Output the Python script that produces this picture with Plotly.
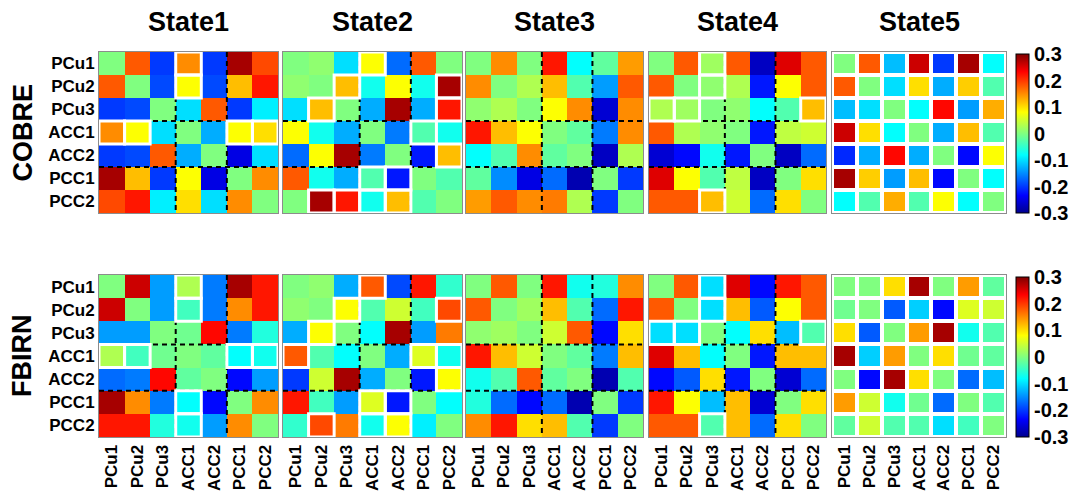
import plotly.graph_objects as go

# region labels and group sizes (PCu / ACC / PCC)
regions = ["PCu1", "PCu2", "PCu3", "ACC1", "ACC2", "PCC1", "PCC2"]
group_sizes = [3, 2, 2]
states = ["State1", "State2", "State3", "State4", "State5"]
datasets = ["COBRE", "FBIRN"]
cbar_ticks = [0.3, 0.2, 0.1, 0, -0.1, -0.2, -0.3]
cbar_labels = ["0.3", "0.2", "0.1", "0", "-0.1", "-0.2", "-0.3"]

# COBRE connectivity matrices (rows/cols follow regions)
cobre_s1 = [
    [0.00, 0.18, -0.20, 0.15, -0.20, 0.28, 0.19],
    [0.18, 0.00, -0.19, 0.08, -0.19, 0.12, 0.22],
    [-0.20, -0.19, 0.00, -0.10, 0.18, -0.20, -0.09],
    [0.15, 0.08, -0.10, 0.00, -0.13, 0.08, 0.10],
    [-0.20, -0.19, 0.18, -0.13, 0.00, -0.25, -0.10],
    [0.28, 0.12, -0.20, 0.08, -0.25, 0.00, 0.15],
    [0.19, 0.22, -0.09, 0.10, -0.10, 0.15, 0.00],
]
cobre_s2 = [
    [0.00, 0.01, -0.10, 0.08, -0.17, 0.18, 0.00],
    [0.01, 0.00, 0.12, -0.07, 0.08, -0.07, 0.28],
    [-0.10, 0.12, 0.00, -0.13, 0.28, -0.13, 0.22],
    [0.08, -0.07, -0.13, 0.00, -0.16, -0.03, -0.07],
    [-0.17, 0.08, 0.28, -0.16, 0.00, -0.22, 0.12],
    [0.18, -0.07, -0.13, -0.03, -0.22, 0.00, -0.03],
    [0.00, 0.28, 0.22, -0.07, 0.12, -0.03, 0.00],
]
cobre_s3 = [
    [0.00, 0.15, 0.00, 0.22, -0.08, -0.02, 0.14],
    [0.15, 0.00, 0.03, 0.12, -0.03, -0.14, 0.18],
    [0.01, 0.03, 0.00, 0.08, 0.15, -0.26, 0.15],
    [0.22, 0.12, 0.08, 0.00, -0.02, -0.16, 0.15],
    [-0.08, -0.03, 0.15, -0.02, 0.00, -0.27, 0.03],
    [-0.02, -0.15, -0.25, -0.17, -0.28, 0.00, -0.20],
    [0.14, 0.18, 0.15, 0.16, 0.03, -0.20, 0.00],
]
cobre_s4 = [
    [0.00, 0.18, 0.02, 0.18, -0.27, 0.25, 0.18],
    [0.18, 0.00, 0.01, 0.03, -0.22, 0.08, 0.18],
    [0.03, 0.02, 0.00, 0.01, -0.08, -0.03, 0.12],
    [0.18, 0.03, 0.01, 0.00, -0.22, 0.04, 0.05],
    [-0.26, -0.23, -0.07, -0.22, 0.00, -0.27, -0.17],
    [0.25, 0.08, -0.03, 0.04, -0.27, 0.00, 0.10],
    [0.18, 0.18, 0.12, 0.05, -0.17, 0.10, 0.00],
]
cobre_s5 = [
    [0.00, 0.18, -0.12, 0.26, -0.20, 0.28, -0.08],
    [0.18, 0.00, -0.10, 0.10, -0.13, 0.11, -0.03],
    [-0.12, -0.10, 0.00, -0.08, 0.23, -0.14, 0.13],
    [0.26, 0.10, -0.08, 0.00, -0.13, 0.12, -0.03],
    [-0.21, -0.13, 0.23, -0.13, 0.00, -0.23, 0.08],
    [0.28, 0.11, -0.14, 0.12, -0.23, 0.00, -0.08],
    [-0.08, -0.03, 0.13, -0.03, 0.08, -0.08, 0.00],
]

# FBIRN connectivity matrices
fbirn_s1 = [
    [0.00, 0.26, -0.14, 0.03, -0.16, 0.28, 0.22],
    [0.26, 0.00, -0.14, -0.04, -0.16, 0.15, 0.22],
    [-0.14, -0.14, 0.00, -0.01, 0.23, -0.16, -0.06],
    [0.03, -0.04, -0.01, 0.00, -0.02, -0.08, -0.07],
    [-0.17, -0.16, 0.23, -0.02, 0.00, -0.23, -0.14],
    [0.28, 0.15, -0.16, -0.08, -0.23, 0.00, 0.15],
    [0.22, 0.22, -0.06, -0.07, -0.14, 0.15, 0.00],
]
fbirn_s2 = [
    [0.00, 0.01, -0.13, 0.18, -0.19, 0.22, -0.05],
    [0.01, 0.00, 0.08, -0.03, 0.05, -0.04, 0.19],
    [-0.13, 0.08, 0.00, -0.08, 0.28, -0.14, 0.16],
    [0.18, -0.03, -0.08, 0.00, -0.13, 0.06, -0.07],
    [-0.20, 0.05, 0.28, -0.13, 0.00, -0.22, 0.08],
    [0.22, -0.04, -0.14, 0.06, -0.22, 0.00, -0.08],
    [-0.05, 0.19, 0.16, -0.07, 0.08, -0.09, 0.00],
]
fbirn_s3 = [
    [0.00, 0.18, 0.00, 0.22, -0.07, -0.06, 0.15],
    [0.18, 0.00, 0.02, 0.12, -0.03, -0.17, 0.22],
    [0.01, 0.02, 0.00, 0.05, 0.18, -0.23, 0.10],
    [0.22, 0.12, 0.05, 0.00, -0.02, -0.16, 0.12],
    [-0.07, -0.03, 0.18, -0.02, 0.00, -0.28, -0.03],
    [-0.06, -0.17, -0.23, -0.17, -0.28, 0.00, -0.20],
    [0.15, 0.22, 0.10, 0.12, -0.03, -0.20, 0.00],
]
fbirn_s4 = [
    [0.00, 0.18, -0.10, 0.25, -0.23, 0.22, 0.18],
    [0.18, 0.00, -0.10, 0.12, -0.18, 0.08, 0.18],
    [-0.10, -0.10, 0.00, -0.08, 0.10, -0.12, -0.03],
    [0.25, 0.12, -0.08, 0.00, -0.22, 0.12, 0.12],
    [-0.23, -0.18, 0.10, -0.22, 0.00, -0.26, -0.17],
    [0.22, 0.08, -0.12, 0.12, -0.26, 0.00, 0.10],
    [0.18, 0.18, -0.03, 0.12, -0.17, 0.10, 0.00],
]
fbirn_s5 = [
    [0.00, 0.00, 0.10, 0.28, 0.00, 0.14, -0.02],
    [-0.01, 0.00, -0.18, -0.11, -0.23, 0.06, 0.05],
    [0.10, -0.18, 0.00, 0.14, 0.28, -0.07, -0.03],
    [0.28, -0.11, 0.14, 0.00, 0.10, -0.01, -0.02],
    [0.00, -0.23, 0.28, 0.10, 0.00, -0.17, -0.12],
    [0.14, 0.05, -0.07, -0.01, -0.17, 0.00, -0.03],
    [-0.02, 0.05, -0.03, -0.03, -0.10, -0.04, 0.00],
]

# significant cells (row, col), 1-based, outlined in white
cobre_boxes = [
    [(1, 4), (2, 4), (4, 1), (4, 2), (4, 6), (4, 7)],
    [(1, 4), (2, 3), (3, 2), (2, 7), (3, 7), (4, 6), (5, 7), (6, 4), (6, 5), (7, 2), (7, 3), (7, 4), (7, 5)],
    [],
    [(1, 3), (2, 3), (3, 1), (3, 2), (3, 7), (7, 3)],
    [],
]
fbirn_boxes = [
    [(1, 4), (2, 4), (4, 1), (4, 2), (4, 6), (4, 7), (6, 4), (7, 4)],
    [(1, 4), (2, 3), (2, 7), (3, 2), (4, 1), (4, 6), (4, 7), (5, 7), (6, 4), (6, 5), (7, 2), (7, 4), (7, 5)],
    [],
    [(1, 3), (2, 3), (3, 1), (3, 2), (3, 7), (7, 3)],
    [],
]

cobre = [cobre_s1, cobre_s2, cobre_s3, cobre_s4, cobre_s5]
fbirn = [fbirn_s1, fbirn_s2, fbirn_s3, fbirn_s4, fbirn_s5]

# matlab-like jet
jet = [
    [0.0, "rgb(0,0,143)"], [0.11, "rgb(0,0,255)"], [0.365, "rgb(0,255,255)"],
    [0.5, "rgb(128,255,128)"], [0.635, "rgb(255,255,0)"], [0.889, "rgb(255,0,0)"],
    [1.0, "rgb(128,0,0)"],
]

W, H = 1084, 503
font = "Liberation Sans"
x_px = [(99, 278), (283, 462), (466, 643), (649, 826), (832, 1006)]
y_px = [(52, 213), (275, 437)]

idx = list(range(len(regions)))
bounds = []
acc = 0
for g in group_sizes[:-1]:
    acc += g
    bounds.append(acc - 0.5)

fig = go.Figure()
shapes = []
annotations = []

for r, (mats, boxes) in enumerate([(cobre, cobre_boxes), (fbirn, fbirn_boxes)]):
    y0, y1 = y_px[r]
    for c in range(5):
        n = r * 5 + c + 1
        xa = "x" if n == 1 else f"x{n}"
        ya = "y" if n == 1 else f"y{n}"
        gap = 4 if c == 4 else 0
        fig.add_trace(go.Heatmap(
            z=mats[c], x=idx, y=idx,
            coloraxis="coloraxis" if r == 0 else "coloraxis2",
            xaxis=xa, yaxis=ya, xgap=gap, ygap=gap,
        ))
        x0, x1 = x_px[c]
        fig.update_layout({
            ("xaxis" if n == 1 else f"xaxis{n}"): dict(
                domain=[x0 / W, x1 / W], anchor=ya, range=[-0.5, 6.5],
                tickvals=idx, ticktext=regions, showticklabels=(r == 1),
                tickangle=-90, ticks="", showgrid=False, zeroline=False,
                showline=True, mirror=True, linecolor="#8c8c8c", linewidth=1,
                tickfont=dict(family=font, size=17, color="black", weight="bold"),
            ),
            ("yaxis" if n == 1 else f"yaxis{n}"): dict(
                domain=[1 - y1 / H, 1 - y0 / H], anchor=xa, range=[6.5, -0.5],
                tickvals=idx, ticktext=regions, showticklabels=(c == 0),
                ticks="", showgrid=False, zeroline=False,
                showline=True, mirror=True, linecolor="#8c8c8c", linewidth=1,
                tickfont=dict(family=font, size=17, color="black", weight="bold"),
            ),
        })

        # dashed group separators
        if c != 4:
            for b in bounds:
                dash = dict(color="black", width=2, dash="5px,4px")
                shapes.append(dict(type="line", xref=xa, yref=ya, x0=b, x1=b, y0=-0.5, y1=6.5, line=dash))
                shapes.append(dict(type="line", xref=xa, yref=ya, x0=-0.5, x1=6.5, y0=b, y1=b, line=dash))

        # white boxes on significant cells
        for (rr, cc) in boxes[c]:
            shapes.append(dict(
                type="rect", xref=xa, yref=ya,
                x0=cc - 1.5, x1=cc - 0.5, y0=rr - 1.5, y1=rr - 0.5,
                line=dict(color="white", width=3),
            ))

        if r == 0:
            annotations.append(dict(
                text=f"<b>{states[c]}</b>", x=(x0 + x1) / 2 / W, y=1 - 22 / H,
                xref="paper", yref="paper", showarrow=False,
                xanchor="center", yanchor="middle",
                font=dict(family=font, size=27, color="black"),
            ))

    annotations.append(dict(
        text=f"<b>{datasets[r]}</b>", x=22 / W, y=1 - (y0 + y1) / 2 / H,
        xref="paper", yref="paper", showarrow=False, textangle=-90,
        xanchor="center", yanchor="middle",
        font=dict(family=font, size=27, color="black"),
    ))


def cbar(r):
    y0, y1 = y_px[r]
    return dict(
        colorscale=jet, cmin=-0.3, cmax=0.3,
        colorbar=dict(
            x=1016 / W, xanchor="left", y=1 - (y0 + y1 + 2) / 2 / H, yanchor="middle",
            len=(y1 - y0 - 2) / H, lenmode="fraction", thickness=13, thicknessmode="pixels",
            outlinecolor="black", outlinewidth=1, ticks="", ypad=0, xpad=0,
            tickvals=cbar_ticks, ticktext=cbar_labels,
            tickfont=dict(family=font, size=20, color="black", weight="bold"),
        ),
    )


fig.update_layout(
    width=W, height=H,
    margin=dict(l=0, r=0, t=0, b=0, autoexpand=False),
    paper_bgcolor="white", plot_bgcolor="white",
    coloraxis=cbar(0), coloraxis2=cbar(1),
    shapes=shapes, annotations=annotations,
    showlegend=False,
)

fig.write_html("out.html", config={"displayModeBar": False},
               post_script="document.body.style.margin='0px';")
